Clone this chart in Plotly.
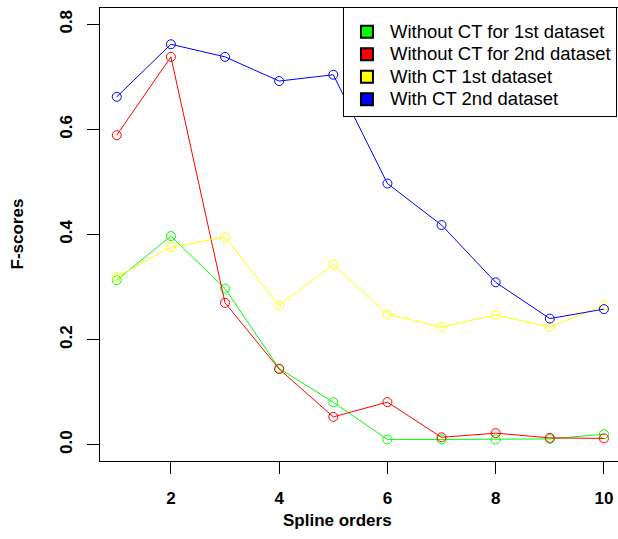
import plotly.graph_objects as go

spline_orders = [1, 2, 3, 4, 5, 6, 7, 8, 9, 10]
without_ct_1st = [0.313, 0.397, 0.297, 0.145, 0.081, 0.010, 0.010, 0.010, 0.011, 0.020]
without_ct_2nd = [0.589, 0.738, 0.270, 0.144, 0.053, 0.081, 0.014, 0.022, 0.013, 0.012]
with_ct_1st = [0.319, 0.376, 0.395, 0.265, 0.343, 0.248, 0.224, 0.247, 0.224, 0.265]
with_ct_2nd = [0.662, 0.762, 0.738, 0.692, 0.704, 0.497, 0.418, 0.309, 0.240, 0.258]

series_names = ["Without CT for 1st dataset", "Without CT for 2nd dataset",
                "With CT 1st dataset", "With CT 2nd dataset"]
series_values = [without_ct_1st, without_ct_2nd, with_ct_1st, with_ct_2nd]
series_colors = ["#00FF00", "#FF0000", "#FFFF00", "#0000FF"]

y_ticks = [0.0, 0.2, 0.4, 0.6, 0.8]
x_ticks = [2, 4, 6, 8, 10]

FONT = "Liberation Sans, Arial, sans-serif"

fig = go.Figure()
for name, vals, col in zip(series_names, series_values, series_colors):
    fig.add_trace(go.Scatter(
        x=spline_orders, y=vals, mode="lines+markers", showlegend=False,
        line=dict(color=col, width=1),
        marker=dict(symbol="circle-open", size=9, color=col, line=dict(width=1, color=col)),
    ))
for name, col in zip(series_names, series_colors):
    fig.add_trace(go.Scatter(
        x=[None], y=[None], mode="markers",
        name='<span style="font-size:18.5px">' + name + '</span>',
        marker=dict(symbol="square", size=14, color=col, line=dict(width=1, color="black")),
    ))

fig.update_layout(
    width=618, height=539,
    margin=dict(l=100, r=0, t=8, b=78, autoexpand=False),
    paper_bgcolor="white", plot_bgcolor="white",
    font=dict(family=FONT, color="black"),
    xaxis=dict(range=[0.69, 10.26], tickvals=x_ticks, showgrid=False, zeroline=False,
               showline=True, linecolor="black", linewidth=1, mirror=True,
               ticks="outside", ticklen=12, tickwidth=1, tickcolor="black",
               tickfont=dict(size=17, weight="bold"), ticklabelstandoff=10),
    yaxis=dict(range=[-0.031, 0.831], tickvals=y_ticks, tickformat=".1f",
               showgrid=False, zeroline=False,
               showline=True, linecolor="black", linewidth=1, mirror=False,
               ticks="outside", ticklen=12, tickwidth=1, tickcolor="black",
               tickangle=-90, tickfont=dict(size=17, weight="bold"), ticklabelstandoff=8),
    legend=dict(x=0.469, y=1.003, xanchor="left", yanchor="top",
                bgcolor="white", bordercolor="black", borderwidth=1,
                font=dict(size=15, family=FONT), itemsizing="constant", itemwidth=36,
                title=dict(text="\u00a0", font=dict(size=6))),
    annotations=[
        dict(text="Spline orders", xref="paper", yref="paper", x=(337 - 100) / 518, y=0,
             yshift=-59, xanchor="center", yanchor="middle", showarrow=False,
             font=dict(size=17, weight="bold")),
        dict(text="F-scores", xref="paper", yref="paper", x=(17 - 100) / 518, y=0.5,
             xanchor="center", yanchor="middle", textangle=-90, showarrow=False,
             font=dict(size=17, weight="bold")),
    ],
)

fig.write_html("out.html")
